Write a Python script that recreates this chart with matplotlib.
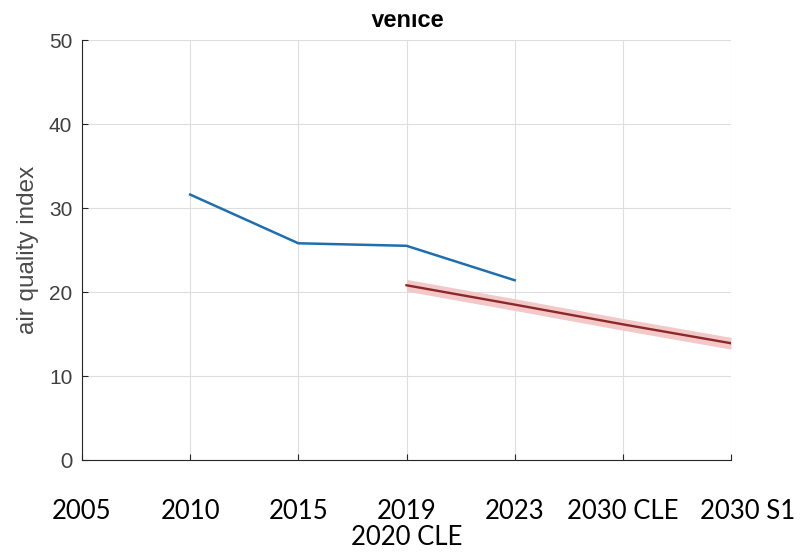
import matplotlib
matplotlib.use("Agg")
import matplotlib.pyplot as plt
from matplotlib.patches import Rectangle

# categories along the x axis
categories = ["2005", "2010", "2015", "2019\n2020 CLE", "2023", "2030 CLE", "2030 S1"]
cat_pos = [1, 2, 3, 4, 5, 6, 7]

# observed index
obs_x = [2, 3, 4, 5]
obs_y = [31.6, 25.8, 25.5, 21.4]

# scenario projection with uncertainty band
proj_x = [4, 5, 6, 7]
proj_y = [20.8, 18.5, 16.15, 13.9]
proj_lo = [20.1, 17.8, 15.45, 13.2]
proj_hi = [21.5, 19.2, 16.85, 14.6]

yticks = [0, 10, 20, 30, 40, 50]

fig = plt.figure(figsize=(8.07, 5.54), dpi=100)
ax = fig.add_axes([82 / 807, 94 / 554, 649 / 807, 420 / 554])

ax.fill_between(proj_x, proj_lo, proj_hi, color="#f2c8c8", lw=0, zorder=2)
ax.plot(proj_x, proj_y, color="#8c2828", lw=1.7, zorder=3)
ax.plot(obs_x, obs_y, color="#1f6fae", lw=1.8, zorder=3)

ax.set_xlim(1, 7)
ax.set_ylim(0, 50)
ax.set_xticks(cat_pos)
ax.set_xticklabels([""] * len(cat_pos))
ax.set_yticks(yticks)
ax.set_yticklabels([str(v) for v in yticks], family="Liberation Sans",
                   fontsize=15, color="#404040")
ylab0 = ax.get_yticklabels()[0]
ylab0.set_family("Lato")
ylab0.set_fontsize(15)

ax.grid(True, color="#dedede", lw=0.8)
ax.set_axisbelow(True)
for side in ("top", "right"):
    ax.spines[side].set_visible(False)
for side in ("left", "bottom"):
    ax.spines[side].set_color("#262626")
    ax.spines[side].set_linewidth(0.8)
ax.tick_params(axis="both", direction="in", length=4.5, width=0.8,
               color="#262626")
ax.tick_params(axis="y", pad=7)

ax.set_ylabel("air quality index", family="Liberation Sans", fontsize=17.5,
              color="#4a4a4a")
ax.yaxis.set_label_coords(-0.066, 0.5)

# category labels below the axis
xt = ax.get_xaxis_transform()
for i, (p, lab) in enumerate(zip(cat_pos, categories)):
    dx = 0.025 if i == len(cat_pos) - 1 else 0.0
    ax.text(p + dx * 6, -0.093, lab, transform=xt, ha="center", va="top",
            family="Lato", fontsize=18.5, color="black",
            multialignment="center", linespacing=1.05)

# title, partially masked at its top
fig.text(407 / 807, 1 - 27 / 554, "Venice", ha="center", va="baseline",
         family="Liberation Sans", fontweight="bold", fontsize=17, color="black")
fig.patches.append(Rectangle((340 / 807, 1 - 13 / 554), 140 / 807, 13 / 554,
                             transform=fig.transFigure, color="white", zorder=10))

fig.savefig("out.png", dpi=100, facecolor="white")
